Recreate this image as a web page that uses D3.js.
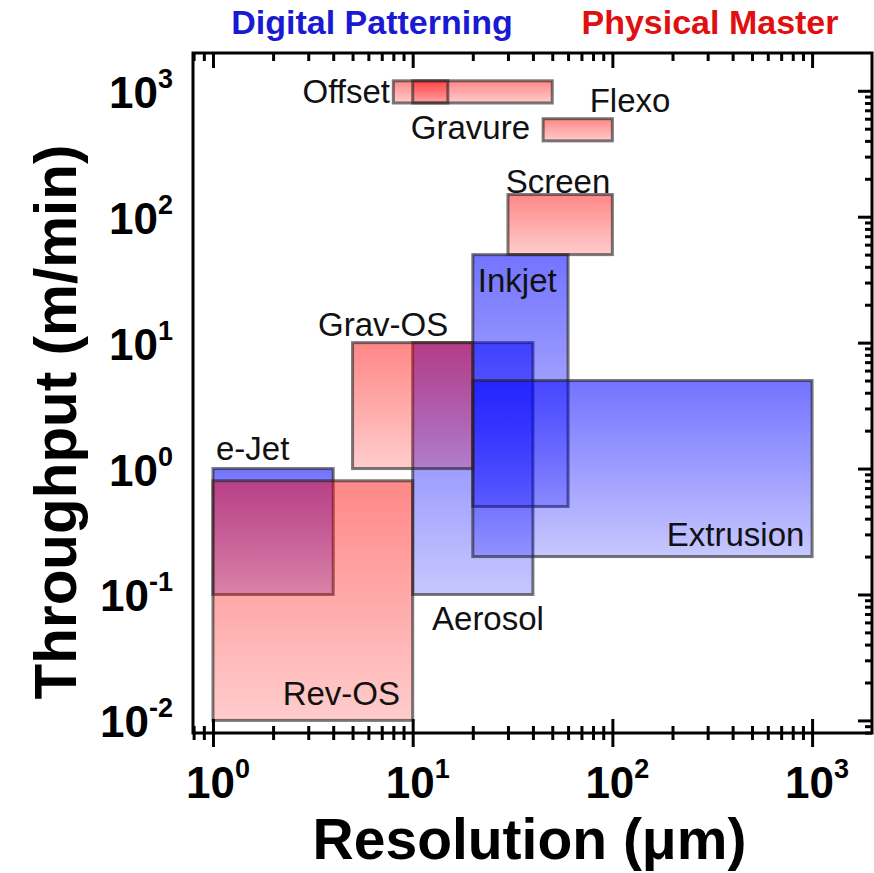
<!DOCTYPE html>
<html>
<head>
<meta charset="utf-8">
<script src="https://cdn.jsdelivr.net/npm/d3@7"></script>
<style>
body { margin: 0; background: #fff; }
text { font-family: "Liberation Sans", Arial, sans-serif; }
</style>
</head>
<body>
<script>
// Printing methods: resolution range (um) vs throughput range (m/min)
var methods = ["e-Jet", "Aerosol", "Inkjet", "Extrusion", "Rev-OS", "Grav-OS", "Offset", "Flexo", "Gravure", "Screen"];
var kind = ["digital", "digital", "digital", "digital", "master", "master", "master", "master", "master", "master"];
var resMin = [1, 10, 20, 20, 1, 5, 8, 10, 45, 30];
var resMax = [4, 40, 60, 1000, 10, 20, 50, 15, 100, 100];
var thrMin = [0.1, 0.1, 0.5, 0.2, 0.01, 1, 800, 800, 400, 50];
var thrMax = [1, 10, 50, 5, 0.8, 10, 1200, 1200, 600, 150];

// where each method name sits (data units)
var labelX = [1.035, 12.5, 21.2, 915, 8.64, 3.36, 7.7, 77, 38.7, 53.4];
var labelY = [1.17, 0.0525, 25.2, 0.244, 0.0133, 11.3, 798, 678, 414, 154];
var labelAnchor = ["start", "start", "start", "end", "end", "start", "end", "start", "end", "middle"];

var xMajor = [1, 10, 100, 1000];
var yMajor = [0.01, 0.1, 1, 10, 100, 1000];

var groupTitles = ["Digital Patterning", "Physical Master"];

//Set up the chart
var svgWidth = 874;
var svgHeight = 873;

var margin = {
	top: 53,
	right: 2,
	bottom: 140,
	left: 193
};

var width = svgWidth - margin.left - margin.right;
var height = svgHeight - margin.top - margin.bottom;

var svg = d3.select("body")
	.append("svg")
	.attr("width", svgWidth)
	.attr("height", svgHeight);

// gradient fills for the two groups
var defs = svg.append("defs");
var gradDigital = defs.append("linearGradient")
	.attr("id", "gradDigital")
	.attr("x1", 0).attr("y1", 0).attr("x2", 0).attr("y2", 1);
gradDigital.append("stop").attr("offset", "0%").attr("stop-color", "#0000ff").attr("stop-opacity", 0.55);
gradDigital.append("stop").attr("offset", "100%").attr("stop-color", "#0000ff").attr("stop-opacity", 0.22);

var gradMaster = defs.append("linearGradient")
	.attr("id", "gradMaster")
	.attr("x1", 0).attr("y1", 0).attr("x2", 0).attr("y2", 1);
gradMaster.append("stop").attr("offset", "0%").attr("stop-color", "#ff0000").attr("stop-opacity", 0.47);
gradMaster.append("stop").attr("offset", "100%").attr("stop-color", "#ff0000").attr("stop-opacity", 0.2);

var chartGroup = svg.append("g")
	.attr("transform", `translate(${margin.left}, ${margin.top})`);

//Create the scale functions
var x = d3.scaleLog().domain([Math.pow(10, -0.1), Math.pow(10, 3.3)]).range([0, width]);
var y = d3.scaleLog().domain([Math.pow(10, -2.1), Math.pow(10, 3.3)]).range([height, 0]);

var idx = d3.range(methods.length);

//Boxes
chartGroup.selectAll("rect.box")
	.data(idx)
	.enter()
	.append("rect")
	.attr("class", "box")
	.attr("x", i => x(resMin[i]))
	.attr("y", i => y(thrMax[i]))
	.attr("width", i => x(resMax[i]) - x(resMin[i]))
	.attr("height", i => y(thrMin[i]) - y(thrMax[i]))
	.attr("fill", i => kind[i] == "digital" ? "url(#gradDigital)" : "url(#gradMaster)")
	.attr("stroke", "#222")
	.attr("stroke-opacity", 0.6)
	.attr("stroke-width", 3);

//Method labels
chartGroup.selectAll("text.method")
	.data(idx)
	.enter()
	.append("text")
	.attr("class", "method")
	.attr("x", i => x(labelX[i]))
	.attr("y", i => y(labelY[i]))
	.attr("text-anchor", i => labelAnchor[i])
	.style("font-size", "33px")
	.attr("fill", "#111")
	.text(i => methods[i]);

//Ticks
var xMinor = x.ticks().filter(v => xMajor.indexOf(v) < 0);
var yMinor = y.ticks().filter(v => Math.abs(Math.log10(v) - Math.round(Math.log10(v))) > 1e-9);

function tickLines(g, cross, len) {
	g.select(".domain").remove();
	g.selectAll("line").attr("stroke", "#000").attr("stroke-width", 3);
	if (cross) {
		g.selectAll("line").attr(cross, -len);
	}
}

// bottom
chartGroup.append("g").attr("transform", `translate(0, ${height})`)
	.call(d3.axisBottom(x).tickValues(xMajor).tickSize(14).tickFormat(""))
	.call(g => tickLines(g, "y1", 14));
chartGroup.append("g").attr("transform", `translate(0, ${height})`)
	.call(d3.axisBottom(x).tickValues(xMinor).tickSize(7).tickFormat(""))
	.call(g => tickLines(g, "y1", 7));
// top (inward)
chartGroup.append("g")
	.call(d3.axisBottom(x).tickValues(xMajor).tickSize(15).tickFormat(""))
	.call(g => tickLines(g));
chartGroup.append("g")
	.call(d3.axisBottom(x).tickValues(xMinor).tickSize(8).tickFormat(""))
	.call(g => tickLines(g));
// left
chartGroup.append("g")
	.call(d3.axisLeft(y).tickValues(yMajor).tickSize(14).tickFormat(""))
	.call(g => tickLines(g, "x1", 14));
chartGroup.append("g")
	.call(d3.axisLeft(y).tickValues(yMinor).tickSize(7).tickFormat(""))
	.call(g => tickLines(g, "x1", 7));
// right (inward)
chartGroup.append("g").attr("transform", `translate(${width}, 0)`)
	.call(d3.axisLeft(y).tickValues(yMajor).tickSize(14).tickFormat(""))
	.call(g => tickLines(g));
chartGroup.append("g").attr("transform", `translate(${width}, 0)`)
	.call(d3.axisLeft(y).tickValues(yMinor).tickSize(7).tickFormat(""))
	.call(g => tickLines(g));

//Frame
chartGroup.append("rect")
	.attr("width", width)
	.attr("height", height)
	.attr("fill", "none")
	.attr("stroke", "#000")
	.attr("stroke-width", 3);

//Tick labels as 10^n
function powLabel(sel) {
	sel.append("tspan").text("10");
	sel.append("tspan")
		.attr("dy", -20)
		.style("font-size", "27px")
		.text(v => Math.round(Math.log10(v)));
}

chartGroup.selectAll("text.xtick")
	.data(xMajor)
	.enter()
	.append("text")
	.attr("class", "xtick")
	.attr("x", v => x(v) + 5)
	.attr("y", height + 65)
	.attr("text-anchor", "middle")
	.style("font-size", "44px")
	.style("font-weight", "bold")
	.call(powLabel);

chartGroup.selectAll("text.ytick")
	.data(yMajor)
	.enter()
	.append("text")
	.attr("class", "ytick")
	.attr("x", -20)
	.attr("y", v => y(v) + 17)
	.attr("text-anchor", "end")
	.style("font-size", "44px")
	.style("font-weight", "bold")
	.call(powLabel);

//Axis titles
chartGroup.append("text")
	.attr("x", width / 2 - 3)
	.attr("y", height + 126)
	.attr("text-anchor", "middle")
	.style("font-size", "57px")
	.style("font-weight", "bold")
	.text("Resolution (\u03bcm)");

chartGroup.append("text")
	.attr("transform", "rotate(-90)")
	.attr("x", -(height / 2) - 29)
	.attr("y", 76 - margin.left)
	.attr("text-anchor", "middle")
	.attr("textLength", 555)
	.attr("lengthAdjust", "spacingAndGlyphs")
	.style("font-size", "59px")
	.style("font-weight", "bold")
	.text("Throughput (m/min)");

//Group titles
svg.append("text")
	.attr("x", 372)
	.attr("y", 34)
	.attr("text-anchor", "middle")
	.attr("fill", "#1a1ad2")
	.style("font-size", "34px")
	.style("font-weight", "bold")
	.text(groupTitles[0]);

svg.append("text")
	.attr("x", 710)
	.attr("y", 34)
	.attr("text-anchor", "middle")
	.attr("fill", "#e01010")
	.style("font-size", "34px")
	.style("font-weight", "bold")
	.text(groupTitles[1]);
</script>
</body>
</html>
